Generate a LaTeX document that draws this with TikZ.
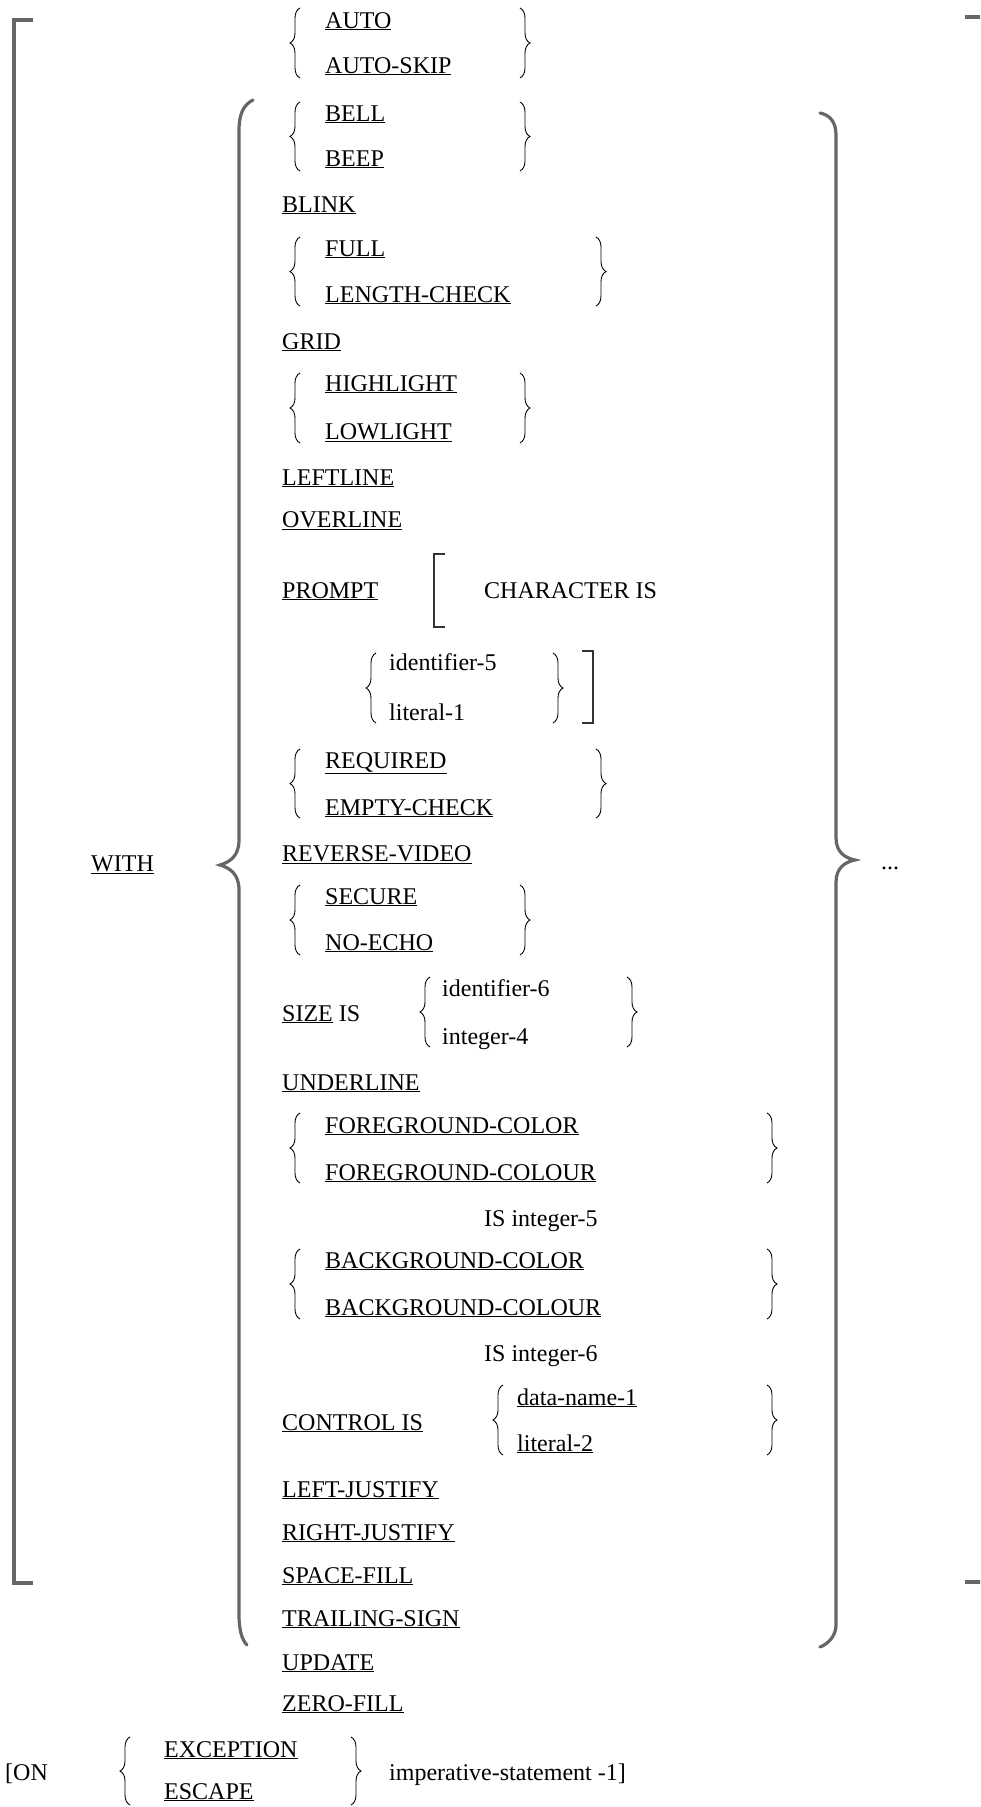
\documentclass[tikz,border=0pt]{standalone}
\usepackage{fontspec}
\setmainfont{Liberation Serif}
\usetikzlibrary{decorations.pathreplacing}

\tikzset{
  kw/.style={anchor=base west, inner sep=0pt, font=\fontsize{24}{28}\selectfont},
  sbrace/.style={decorate, decoration={brace, amplitude=10pt}, line width=0.9pt},
  outer/.style={draw=black!60, line width=3.2pt},
  inner/.style={draw=black!80, line width=2pt},
}

\begin{document}
\begin{tikzpicture}[x=1pt, y=-1pt]
    \useasboundingbox (0,0) rectangle (980,1807);
    \clip (0,0) rectangle (980,1807);

    % Outer brackets
    \draw[outer] (33,20) -- (14,20) -- (14,1583) -- (33,1583);
    \draw[outer] (965,17) -- (986,17) -- (986,1582) -- (965,1582);

    % Big braces
    \draw[outer, line cap=round] (253,100) .. controls (243,105) and (239,115) .. (239,130)
        -- (239,840) .. controls (239,856) and (230,862) .. (220,865)
        .. controls (230,868) and (239,874) .. (239,890)
        -- (239,1615) .. controls (239,1630) and (242,1640) .. (247,1645);
    \draw[outer, line cap=round] (820,113) .. controls (830,115) and (836,122) .. (836,135)
        -- (836,838) .. controls (836,852) and (845,858) .. (855,860)
        .. controls (845,862) and (836,868) .. (836,882)
        -- (836,1625) .. controls (836,1636) and (828,1644) .. (820,1647);

    % Small braces
    \draw[sbrace] (300,78) -- (300,8);
    \draw[sbrace] (520,8) -- (520,78);
    \draw[sbrace] (300,171) -- (300,102);
    \draw[sbrace] (520,102) -- (520,171);
    \draw[sbrace] (300,306) -- (300,237);
    \draw[sbrace] (596,237) -- (596,306);
    \draw[sbrace] (300,443) -- (300,373);
    \draw[sbrace] (520,373) -- (520,443);
    \draw[sbrace] (376,723) -- (376,653);
    \draw[sbrace] (553,653) -- (553,723);
    \draw[sbrace] (300,818) -- (300,749);
    \draw[sbrace] (596,749) -- (596,818);
    \draw[sbrace] (300,955) -- (300,885);
    \draw[sbrace] (520,885) -- (520,955);
    \draw[sbrace] (430,1047) -- (430,977);
    \draw[sbrace] (627,977) -- (627,1047);
    \draw[sbrace] (300,1183) -- (300,1113);
    \draw[sbrace] (767,1113) -- (767,1183);
    \draw[sbrace] (300,1319) -- (300,1249);
    \draw[sbrace] (767,1249) -- (767,1319);
    \draw[sbrace] (503,1455) -- (503,1385);
    \draw[sbrace] (767,1385) -- (767,1455);
    \draw[sbrace] (130,1805) -- (130,1737);
    \draw[sbrace] (351,1737) -- (351,1805);

    % PROMPT brackets
    \draw[inner] (445,554) -- (434,554) -- (434,627) -- (445,627);
    \draw[inner] (582,651) -- (593,651) -- (593,723) -- (582,723);

    % Clauses
    \node[kw] (auto) at (325,28) {\underline{AUTO}};
    \node[kw] (autoskip) at (325,73) {\underline{AUTO-SKIP}};
    \node[kw] (bell) at (325,121) {\underline{BELL}};
    \node[kw] (beep) at (325,166) {\underline{BEEP}};
    \node[kw] (blink) at (282,212) {\underline{BLINK}};
    \node[kw] (full) at (325,256) {\underline{FULL}};
    \node[kw] (lencheck) at (325,302) {\underline{LENGTH-CHECK}};
    \node[kw] (grid) at (282,349) {\underline{GRID}};
    \node[kw] (high) at (325,391) {\underline{HIGHLIGHT}};
    \node[kw] (low) at (325,439) {\underline{LOWLIGHT}};
    \node[kw] (leftline) at (282,485) {\underline{LEFTLINE}};
    \node[kw] (overline) at (282,527) {\underline{OVERLINE}};
    \node[kw] (prompt) at (282,598) {\underline{PROMPT}};
    \node[kw] (charis) at (484,598) {CHARACTER IS};
    \node[kw] (ident5) at (389,670) {identifier-5};
    \node[kw] (lit1) at (389,720) {literal-1};
    \node[kw] (required) at (325,768) {\underline{REQUIRED}};
    \node[kw] (emptycheck) at (325,815) {\underline{EMPTY-CHECK}};
    \node[kw] (revvideo) at (282,861) {\underline{REVERSE-VIDEO}};
    \node[kw] (secure) at (325,904) {\underline{SECURE}};
    \node[kw] (noecho) at (325,950) {\underline{NO-ECHO}};
    \node[kw] (sizeis) at (282,1021) {\underline{SIZE} IS};
    \node[kw] (ident6) at (442,996) {identifier-6};
    \node[kw] (int4) at (442,1044) {integer-4};
    \node[kw] (underln) at (282,1090) {\underline{UNDERLINE}};
    \node[kw] (fgcolor) at (325,1133) {\underline{FOREGROUND-COLOR}};
    \node[kw] (fgcolour) at (325,1180) {\underline{FOREGROUND-COLOUR}};
    \node[kw] (isint5) at (484,1226) {IS integer-5};
    \node[kw] (bgcolor) at (325,1268) {\underline{BACKGROUND-COLOR}};
    \node[kw] (bgcolour) at (325,1315) {\underline{BACKGROUND-COLOUR}};
    \node[kw] (isint6) at (484,1361) {IS integer-6};
    \node[kw] (control) at (282,1430) {\underline{CONTROL IS}};
    \node[kw] (dataname) at (517,1405) {\underline{data-name-1}};
    \node[kw] (lit2) at (517,1451) {\underline{literal-2}};
    \node[kw] (ljust) at (282,1497) {\underline{LEFT-JUSTIFY}};
    \node[kw] (rjust) at (282,1540) {\underline{RIGHT-JUSTIFY}};
    \node[kw] (spacefill) at (282,1583) {\underline{SPACE-FILL}};
    \node[kw] (trailing) at (282,1626) {\underline{TRAILING-SIGN}};
    \node[kw] (update) at (282,1670) {\underline{UPDATE}};
    \node[kw] (zerofill) at (282,1711) {\underline{ZERO-FILL}};

    % Outside the braces
    \node[kw] (with) at (91,871) {\underline{WITH}};
    \node[kw] (dots) at (881,869) {...};
    \node[kw] (on) at (5,1780) {[ON};
    \node[kw] (exception) at (164,1757) {\underline{EXCEPTION}};
    \node[kw] (escape) at (164,1799) {\underline{ESCAPE}};
    \node[kw] (imperative) at (389,1780) {imperative-statement -1]};
\end{tikzpicture}
\end{document}
